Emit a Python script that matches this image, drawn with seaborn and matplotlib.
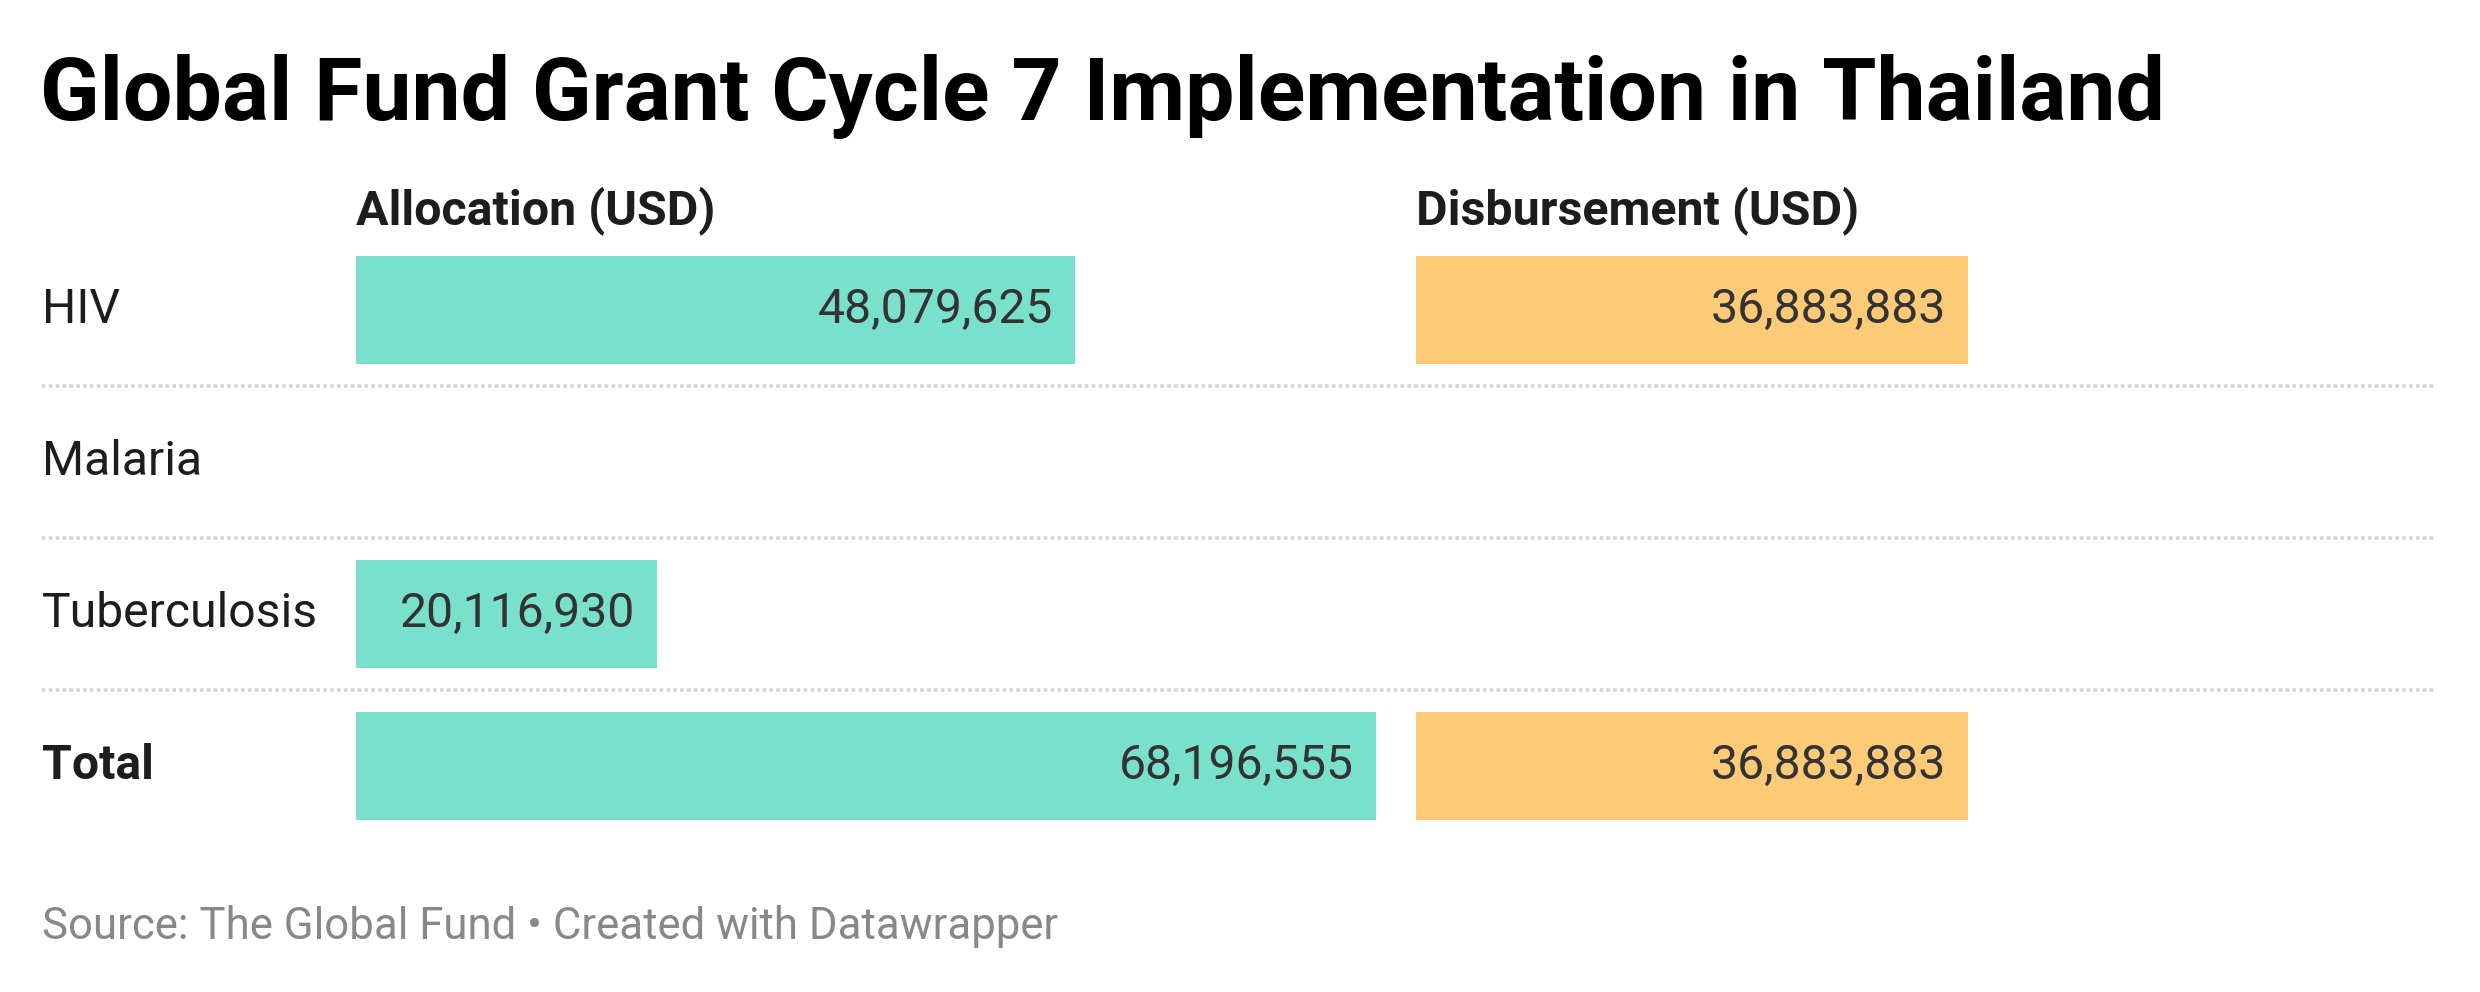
import numpy as np
import pandas as pd
import matplotlib.pyplot as plt
import matplotlib.transforms as mtransforms
from matplotlib.lines import Line2D
import seaborn as sns

# datos del grafico
categories = ["HIV", "Malaria", "Tuberculosis", "Total"]
allocation = [48079625, np.nan, 20116930, 68196555]
disbursement = [36883883, np.nan, np.nan, 36883883]
col_titles = ["Allocation (USD)", "Disbursement (USD)"]
title = "Global Fund Grant Cycle 7 Implementation in Thailand"
footer = "Source: The Global Fund \u2022 Created with Datawrapper"

TEAL = "#79e1cb"
ORANGE = "#fdca77"

W, H = 2480, 992
TXT = 34.7


def fx(px):
    return px / W


def fy(py):
    # py medido desde arriba
    return 1 - py / H


def draw_column(fig, ax, values, color):
    df = pd.DataFrame({"category": categories, "value": values})
    sns.barplot(data=df, x="value", y="category", order=categories,
                color=color, width=0.71, linewidth=0, saturation=1,
                errorbar=None, ax=ax)
    ax.set_xlim(0, max(allocation))
    ax.set_ylim(len(categories) - 0.5, -0.5)
    ax.set_axis_off()
    trans = mtransforms.offset_copy(ax.transData, fig=fig, x=-22, y=5, units="dots")
    for i, v in enumerate(values):
        if pd.isna(v):
            continue
        ax.text(v, i, f"{int(v):,}", transform=trans, ha="right",
                va="center_baseline", fontsize=TXT, color="#333333")


def main():
    sns.set_style("white")
    plt.rcParams["font.family"] = ["Roboto", "DejaVu Sans"]

    fig = plt.figure(figsize=(24.8, 9.92), dpi=100)
    fig.patch.set_facecolor("white")

    # ejes: fila 0 centrada en y=310 px, paso 152 px
    top, bottom = 234, 842
    ax1 = fig.add_axes([fx(356), fy(bottom), fx(1020), (bottom - top) / H])
    ax2 = fig.add_axes([fx(1416), fy(bottom), fx(1020), (bottom - top) / H])

    draw_column(fig, ax1, allocation, TEAL)
    draw_column(fig, ax2, disbursement, ORANGE)

    # lineas punteadas entre filas
    for i in range(len(categories) - 1):
        y = ax1.transData.transform((0, i + 0.5))[1] / H
        fig.add_artist(Line2D([fx(42), fx(2436)], [y, y], transform=fig.transFigure,
                              color="#d4d4d4", linewidth=2.6,
                              linestyle=(0, (1, 0.9))))

    # etiquetas de categoria
    lab_trans = mtransforms.offset_copy(
        mtransforms.blended_transform_factory(fig.transFigure, ax1.transData),
        fig=fig, x=0, y=5, units="dots")
    for i, c in enumerate(categories):
        ax1.text(fx(42), i, c, transform=lab_trans, ha="left", va="center_baseline",
                 fontsize=TXT, color="#1d1d1d",
                 fontweight="bold" if c == "Total" else "normal")

    # titulos de columna
    fig.text(fx(356), fy(224), col_titles[0], ha="left", va="baseline",
             fontsize=34.8, fontweight="bold", color="#1d1d1d")
    fig.text(fx(1416), fy(224), col_titles[1], ha="left", va="baseline",
             fontsize=34.8, fontweight="bold", color="#1d1d1d")

    fig.text(fx(40), fy(120), title, ha="left", va="baseline",
             fontsize=63.2, fontweight="bold", color="#000000")
    fig.text(fx(42), fy(939), footer, ha="left", va="baseline",
             fontsize=31.5, color="#888888")

    plt.savefig("out.png", dpi=100, facecolor="white")


if __name__ == "__main__":
    main()
